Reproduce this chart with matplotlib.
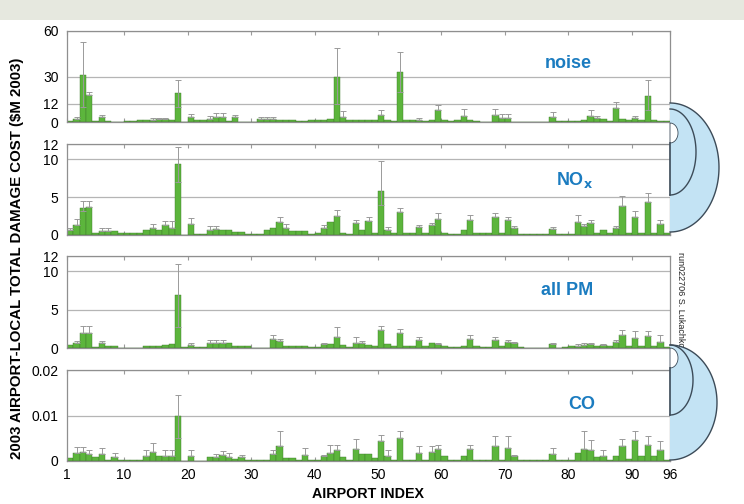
import numpy as np
import matplotlib
matplotlib.use("Agg")
import matplotlib.pyplot as plt
from matplotlib.patches import Rectangle, Polygon

plt.rcParams['font.family'] = ['Liberation Sans', 'DejaVu Sans']

# Airport index 1..95 (bars drawn from k to k+1 on a 1..96 axis)
airports = np.arange(1, 96)

noise = [0.5, 2, 31, 18, 0.5, 3, 0.5, 0, 0, 0.5,
         0.8, 1, 1, 1.5, 2, 2, 1, 19, 0, 3,
         1, 1, 2, 3, 3, 0.5, 3, 0, 0, 0,
         2, 2, 2, 1, 1, 1, 0.5, 0.5, 1, 1,
         1.5, 2, 30, 3, 1, 1, 1, 1, 1, 4.5,
         1.5, 0.5, 33, 1.5, 1, 1.5, 0.5, 1, 8, 1.5,
         0.5, 1, 4, 1.5, 0.5, 0.3, 0.3, 4.5, 2.5, 2.5,
         0.3, 0.3, 0.3, 0.2, 0.2, 0.3, 3, 0.5, 0.5, 0.5,
         0.8, 1, 4, 2.5, 2, 0.5, 9, 2, 1, 2.5,
         1, 17, 1, 0.8, 0.5]
noise_hi = [0.5, 3, 53, 20, 0.5, 4.3, 0.5, 0, 0, 0.5,
            0.8, 1, 1, 2.5, 2.5, 2.5, 1, 28, 0, 5,
            1, 1, 4, 6, 6, 0.5, 4.5, 0, 0, 0,
            3, 3, 3, 1, 1, 1, 0.5, 0.5, 1, 1,
            1.5, 2, 49, 7, 1, 1, 1, 1, 1, 7.8,
            1.5, 0.5, 46, 1.5, 1, 2.5, 0.5, 1, 11, 1.5,
            0.5, 1, 8.7, 1.5, 0.5, 0.3, 0.3, 8.7, 5, 5,
            0.3, 0.3, 0.3, 0.2, 0.2, 0.3, 6.5, 0.5, 0.5, 0.5,
            0.8, 1, 8, 4, 2, 0.5, 13, 2, 1, 4,
            1, 28, 1, 0.8, 0.5]
noise_lo = {3: 10, 18: 10, 43: 12, 53: 20, 92: 8}

nox = [0.66, 1.3, 3.6, 3.75, 0.2, 0.5, 0.5, 0.5, 0.2, 0.2,
       0.2, 0.2, 0.6, 0.9, 0.7, 1.3, 0.9, 9.4, 0.05, 1.4,
       0.1, 0.1, 0.6, 0.8, 0.7, 0.6, 0.4, 0.4, 0.1, 0.1,
       0.1, 0.6, 0.9, 1.75, 0.9, 0.5, 0.5, 0.5, 0.1, 0.3,
       0.9, 1.75, 2.5, 0.3, 0.1, 1.6, 0.7, 1.8, 0.3, 5.8,
       0.7, 0.3, 3.0, 0.3, 0.3, 1.0, 0.3, 1.3, 2.1, 0.3,
       0.1, 0.1, 0.6, 2.0, 0.3, 0.2, 0.2, 2.4, 0.3, 2.0,
       0.9, 0.1, 0.1, 0.1, 0.1, 0.1, 0.8, 0.1, 0.1, 0.1,
       1.7, 1.2, 1.6, 0.3, 0.6, 0.2, 0.9, 3.8, 0.3, 2.4,
       0.3, 4.3, 0.3, 1.5, 0.2]
nox_hi = [0.9, 2.1, 4.5, 4.5, 0.2, 0.9, 0.9, 0.5, 0.2, 0.2,
          0.2, 0.2, 0.6, 1.5, 0.7, 1.8, 1.8, 11.6, 0.05, 2.3,
          0.1, 0.1, 1.2, 1.2, 0.7, 0.6, 0.4, 0.4, 0.1, 0.1,
          0.1, 0.6, 0.9, 2.4, 1.5, 0.5, 0.5, 0.5, 0.1, 0.3,
          1.3, 1.75, 3.3, 0.3, 0.1, 2.0, 0.7, 2.4, 0.3, 9.7,
          1.0, 0.3, 3.6, 0.3, 0.3, 1.3, 0.3, 1.6, 2.9, 0.3,
          0.1, 0.1, 0.6, 2.6, 0.3, 0.2, 0.2, 2.9, 0.3, 2.4,
          1.2, 0.1, 0.1, 0.1, 0.1, 0.1, 1.1, 0.1, 0.1, 0.1,
          2.6, 1.5, 2.0, 0.3, 0.6, 0.2, 1.2, 5.1, 0.3, 3.1,
          0.3, 5.6, 0.3, 2.0, 0.2]
nox_lo = {3: 3.1, 18: 7.0, 50: 4.0}

pm = [0.4, 0.7, 1.9, 1.9, 0.1, 0.6, 0.3, 0.3, 0.05, 0.05,
      0.05, 0.05, 0.2, 0.3, 0.3, 0.4, 0.5, 6.85, 0.1, 0.4,
      0.1, 0.1, 0.6, 0.6, 0.7, 0.7, 0.3, 0.3, 0.3, 0.05,
      0.05, 0.05, 1.2, 0.9, 0.3, 0.3, 0.3, 0.3, 0.1, 0.1,
      0.5, 0.5, 1.45, 0.4, 0.1, 0.6, 0.6, 0.4, 0.2, 2.4,
      0.5, 0.2, 2.0, 0.3, 0.2, 1.0, 0.2, 0.6, 0.5, 0.2,
      0.1, 0.1, 0.3, 1.2, 0.2, 0.1, 0.1, 1.1, 0.2, 0.8,
      0.6, 0.1, 0.05, 0.05, 0.05, 0.05, 0.5, 0.05, 0.1, 0.2,
      0.3, 0.4, 0.5, 0.3, 0.4, 0.2, 0.8, 1.65, 0.3, 1.35,
      0.3, 1.6, 0.3, 0.8, 0.1]
pm_hi = [0.4, 0.9, 2.85, 2.85, 0.1, 0.9, 0.3, 0.3, 0.05, 0.05,
         0.05, 0.05, 0.2, 0.3, 0.3, 0.4, 0.5, 11, 0.1, 0.6,
         0.1, 0.1, 1.0, 1.0, 1.0, 0.7, 0.3, 0.3, 0.3, 0.05,
         0.05, 0.05, 1.7, 1.2, 0.3, 0.3, 0.3, 0.3, 0.1, 0.1,
         0.7, 0.5, 2.7, 0.4, 0.1, 1.4, 0.9, 0.4, 0.2, 2.9,
         0.5, 0.2, 2.5, 0.3, 0.2, 1.5, 0.2, 0.6, 0.7, 0.2,
         0.1, 0.1, 0.3, 1.7, 0.2, 0.1, 0.1, 1.5, 0.2, 1.0,
         0.8, 0.1, 0.05, 0.05, 0.05, 0.05, 0.6, 0.05, 0.1, 0.2,
         0.5, 0.6, 0.7, 0.3, 0.5, 0.2, 1.0, 2.3, 0.3, 2.2,
         0.3, 2.2, 0.3, 1.75, 0.1]
pm_lo = {18: 2.8}

co = [0.0007, 0.0017, 0.0019, 0.0015, 0.0008, 0.0015, 0.0002, 0.0009, 0.0003, 0.0003,
      0.0003, 0.0003, 0.0012, 0.0020, 0.0012, 0.0010, 0.0012, 0.0098, 0.0001, 0.0012,
      0.0001, 0.0001, 0.0008, 0.0008, 0.0013, 0.0009, 0.0004, 0.0009, 0.0002, 0.0002,
      0.0002, 0.0002, 0.0015, 0.0032, 0.0006, 0.0006, 0.0003, 0.0013, 0.0002, 0.0002,
      0.0010, 0.0018, 0.0025, 0.0009, 0.0003, 0.0026, 0.0015, 0.0016, 0.0006, 0.0043,
      0.0010, 0.0003, 0.0050, 0.0003, 0.0003, 0.0017, 0.0003, 0.0020, 0.0026, 0.0012,
      0.0003, 0.0003, 0.0011, 0.0027, 0.0003, 0.0002, 0.0002, 0.0033, 0.0003, 0.0028,
      0.0010, 0.0002, 0.0002, 0.0002, 0.0002, 0.0002, 0.0015, 0.0002, 0.0002, 0.0002,
      0.0017, 0.0027, 0.0025, 0.0008, 0.0012, 0.0002, 0.0012, 0.0032, 0.0004, 0.0046,
      0.0012, 0.0035, 0.0012, 0.0024, 0.0003]
co_hi = [0.0007, 0.0030, 0.0030, 0.0024, 0.0008, 0.0028, 0.0002, 0.0018, 0.0003, 0.0003,
         0.0003, 0.0003, 0.0024, 0.0039, 0.0012, 0.0024, 0.0024, 0.0144, 0.0001, 0.0024,
         0.0001, 0.0001, 0.0008, 0.0015, 0.0022, 0.0018, 0.0004, 0.0014, 0.0002, 0.0002,
         0.0002, 0.0002, 0.0024, 0.0065, 0.0006, 0.0006, 0.0003, 0.0028, 0.0002, 0.0002,
         0.0014, 0.0035, 0.0035, 0.0009, 0.0003, 0.0048, 0.0015, 0.0016, 0.0006, 0.0057,
         0.0024, 0.0003, 0.0065, 0.0003, 0.0003, 0.0032, 0.0003, 0.0032, 0.0035, 0.0012,
         0.0003, 0.0003, 0.0011, 0.0036, 0.0003, 0.0002, 0.0002, 0.0055, 0.0003, 0.0055,
         0.0014, 0.0002, 0.0002, 0.0002, 0.0002, 0.0002, 0.0029, 0.0002, 0.0002, 0.0002,
         0.0017, 0.0065, 0.0046, 0.0008, 0.0024, 0.0002, 0.0012, 0.0048, 0.0004, 0.0065,
         0.0012, 0.0055, 0.0012, 0.0043, 0.0003]
co_lo = {18: 0.0051}

panels = [
    ("noise", noise, noise_hi, noise_lo, [0, 12, 30, 60], ["0", "12", "30", "60"], 60),
    (r"NO$_\mathbf{x}$", nox, nox_hi, nox_lo, [0, 5, 10, 12], ["0", "5", "10", "12"], 12),
    ("all PM", pm, pm_hi, pm_lo, [0, 5, 10, 12], ["0", "5", "10", "12"], 12),
    ("CO", co, co_hi, co_lo, [0, 0.01, 0.02], ["0", "0.01", "0.02"], 0.02),
]
label_pos = [(0.832, 0.64), (0.842, 0.60), (0.83, 0.63), (0.853, 0.62)]
xticks = [1, 10, 20, 30, 40, 50, 60, 70, 80, 90, 96]

W, H = 744, 504
fig = plt.figure(figsize=(W / 100, H / 100), dpi=100)
fig.patches.append(Rectangle((0, 1 - 20 / H), 1, 20 / H, transform=fig.transFigure,
                             facecolor='#e6e8df', edgecolor='none', zorder=0))

green = '#5cb53c'
grey = '#9a9a9a'
tops = [31, 144, 256, 370]
bots = [122, 235, 348, 461]
left, right = 67, 670

for i, (name, vals, hi, lo, yt, ytl, ymax) in enumerate(panels):
    ax = fig.add_axes([left / W, 1 - bots[i] / H, (right - left) / W, (bots[i] - tops[i]) / H])
    vals = np.array(vals, dtype=float)
    hi = np.array(hi, dtype=float)
    ax.bar(airports, vals, width=1, align='edge', color=green,
           edgecolor='#3d7a2a', linewidth=0.3, zorder=2)
    up = np.clip(hi - vals, 0, None)
    low = np.zeros_like(vals)
    for k, v in lo.items():
        low[k - 1] = vals[k - 1] - v
    m = (up > 0) | (low > 0)
    ax.errorbar(airports[m] + 0.5, vals[m], yerr=[low[m], up[m]], fmt='none',
                ecolor=grey, elinewidth=0.7, capsize=2.5, capthick=0.7, zorder=3)
    ax.axhline(0, color='#333333', lw=0.8, zorder=4)
    ax.set_xlim(1, 96)
    ax.set_ylim(0, ymax)
    ax.set_yticks(yt)
    ax.set_yticklabels(ytl, fontsize=10)
    ax.set_xticks(xticks)
    ax.yaxis.grid(True, color='#b5b5b5', lw=0.9)
    ax.set_axisbelow(True)
    ax.tick_params(axis='y', length=0, pad=6)
    ax.tick_params(axis='x', direction='in', length=3, color=grey, top=True,
                   labelsize=10, pad=5)
    for s in ax.spines.values():
        s.set_color('#8f8f8f')
        s.set_linewidth(0.9)
    if i < 3:
        ax.set_xticklabels([])

fig.text(368 / W, 1 - 494 / H, "AIRPORT INDEX", ha='center', va='center',
         fontsize=10.3, fontweight='bold')
fig.text(17 / W, 1 - 258 / H, "2003 AIRPORT-LOCAL TOTAL DAMAGE COST (\\$M 2003)",
         rotation=90, ha='center', va='center', fontsize=10.8, fontweight='bold')
fig.text(680 / W, 1 - 300 / H, "run022706 S. Lukachko", rotation=270,
         ha='center', va='center', fontsize=6.5, color='#222222')

for i, (name, *_rest) in enumerate(panels):
    ax = fig.axes[i]
    ax.text(label_pos[i][0], label_pos[i][1], name, transform=ax.transAxes,
            ha='center', va='center', fontsize=13, fontweight='bold', color='#1b7cc0')

# decorative crescents on the right edge
deco = fig.add_axes([0, 0, 1, 1], zorder=5)
deco.set_xlim(0, W)
deco.set_ylim(H, 0)
deco.axis('off')
deco.patch.set_alpha(0)
t = np.linspace(-np.pi / 2, np.pi / 2, 80)
dark = '#3c4b58'
for (oc, ory, orx), (mc, mry, mrx), (wc, wry, wrx) in [
        ((167.5, 64.5, 49), (152, 43, 26), (133, 10, 8)),
        ((402.5, 57.5, 47), (380, 35, 23), (358, 10, 8))]:
    ox = right + orx * np.cos(t)
    oy = oc + ory * np.sin(t)
    deco.add_patch(Polygon(np.column_stack([ox, oy]), closed=True,
                           facecolor='#c3e3f4', edgecolor='none'))
    deco.plot(ox, oy, color=dark, lw=1)
    deco.add_patch(Polygon(np.column_stack([right + wrx * np.cos(t), wc + wry * np.sin(t)]),
                           closed=True, facecolor='white', edgecolor=dark, lw=0.6))
    deco.plot(right + mrx * np.cos(t), mc + mry * np.sin(t), color=dark, lw=1)
    deco.plot([right, right], [wc + wry, mc + mry], color=dark, lw=1.2)

fig.savefig("out.png", dpi=100)
